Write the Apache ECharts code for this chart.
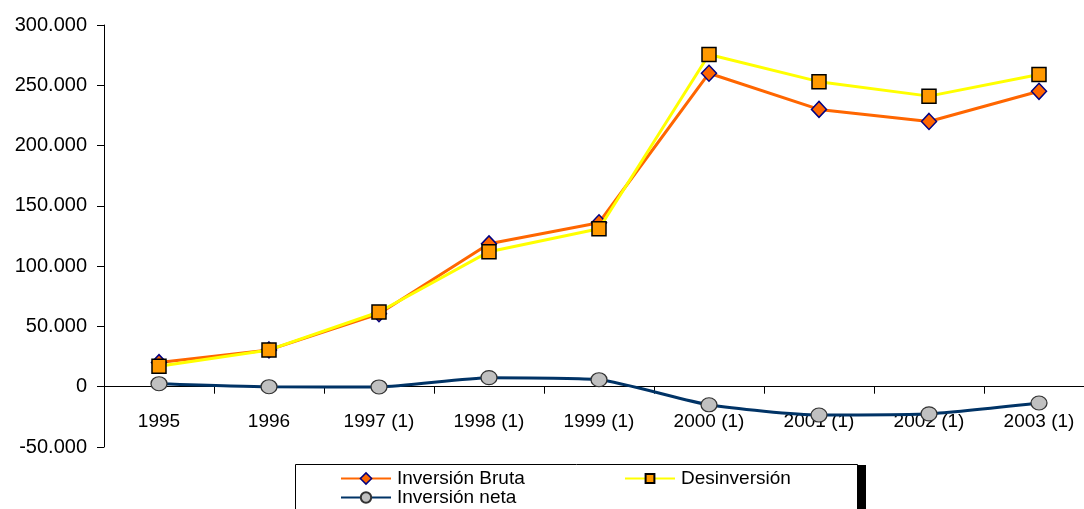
<!DOCTYPE html>
<html><head><meta charset="utf-8">
<script src="https://cdn.jsdelivr.net/npm/echarts@6/dist/echarts.min.js"></script>
<style>html,body{margin:0;padding:0;background:#fff;overflow:hidden;width:1084px;height:509px}#c{width:1100px;height:509px}</style>
</head><body><div id="c"></div>
<script>
const categories = ['1995','1996','1997 (1)','1998 (1)','1999 (1)','2000 (1)','2001 (1)','2002 (1)','2003 (1)'];
const inversionBruta = [20000, 30500, 60500, 118500, 136000, 260000, 230000, 220000, 245000];
const desinversion = [17000, 30500, 62000, 112000, 131000, 275500, 253000, 241000, 259000];
const inversionNeta = [2500, 0, -200, 7500, 5800, -15000, -23500, -22500, -13500];
const yTicks = {min: -50000, max: 300000, interval: 50000};

const font = 'Liberation Sans, Arial, sans-serif';
const chart = echarts.init(document.getElementById('c'));
function fmt(v){ if(v===0) return '0'; const s=Math.abs(v).toString().replace(/\B(?=(\d{3})+(?!\d))/g,'.'); return (v<0?'-':'')+s; }
const legendBase = {orient:'horizontal', itemWidth:50, itemHeight:14, itemGap:10,
  textStyle:{fontFamily:font, fontSize:19, color:'#000', padding:[0,0,0,1]}, padding:0, selectedMode:false};
chart.setOption({
  animation:false,
  grid:{left:104, top:25, right:6, bottom:62, containLabel:false},
  xAxis:{type:'category', data:categories, boundaryGap:true,
    axisLine:{onZero:true, lineStyle:{color:'#000', width:1}},
    axisTick:{show:true, length:7, lineStyle:{color:'#000'}},
    axisLabel:{fontFamily:font, fontSize:19, color:'#000', margin:-35}},
  yAxis:{type:'value', min:yTicks.min, max:yTicks.max, interval:yTicks.interval,
    splitLine:{show:false},
    axisLine:{show:true, lineStyle:{color:'#000', width:1}},
    axisTick:{show:true, length:7, lineStyle:{color:'#000'}},
    axisLabel:{fontFamily:font, fontSize:20, color:'#000', margin:17, formatter:fmt}},
  legend:[
    Object.assign({}, legendBase, {left:340, top:469, data:[{name:'Inversión Bruta', itemStyle:{borderWidth:1.5}}]}),
    Object.assign({}, legendBase, {left:624, top:469, itemHeight:11, data:[{name:'Desinversión'}]}),
    Object.assign({}, legendBase, {left:340, top:488, itemHeight:13, data:[{name:'Inversión neta'}]})
  ],
  graphic:[
    {type:'rect', shape:{x:295.5, y:464.5, width:562, height:60}, style:{fill:'#fff', stroke:'#000', lineWidth:1}, z:-10},
    {type:'rect', shape:{x:858, y:465, width:8, height:60}, style:{fill:'#000'}, z:-9}
  ],
  series:[
    {name:'Inversión Bruta', type:'line', data:inversionBruta, symbol:'diamond', symbolSize:[15,16],
      lineStyle:{color:'#FF6600', width:3}, itemStyle:{color:'#FF6600', borderColor:'#000080', borderWidth:1.5}, z:2},
    {name:'Desinversión', type:'line', data:desinversion, symbol:'rect', symbolSize:14,
      lineStyle:{color:'#FFFF00', width:3}, itemStyle:{color:'#FF9900', borderColor:'#000', borderWidth:1.5}, z:3},
    {name:'Inversión neta', type:'line', data:inversionNeta, symbol:'circle', symbolSize:[16,14], smooth:0.2,
      lineStyle:{color:'#003366', width:3}, itemStyle:{color:'#C0C0C0', borderColor:'#333', borderWidth:1.2}, z:4}
  ]
});
</script></body></html>
